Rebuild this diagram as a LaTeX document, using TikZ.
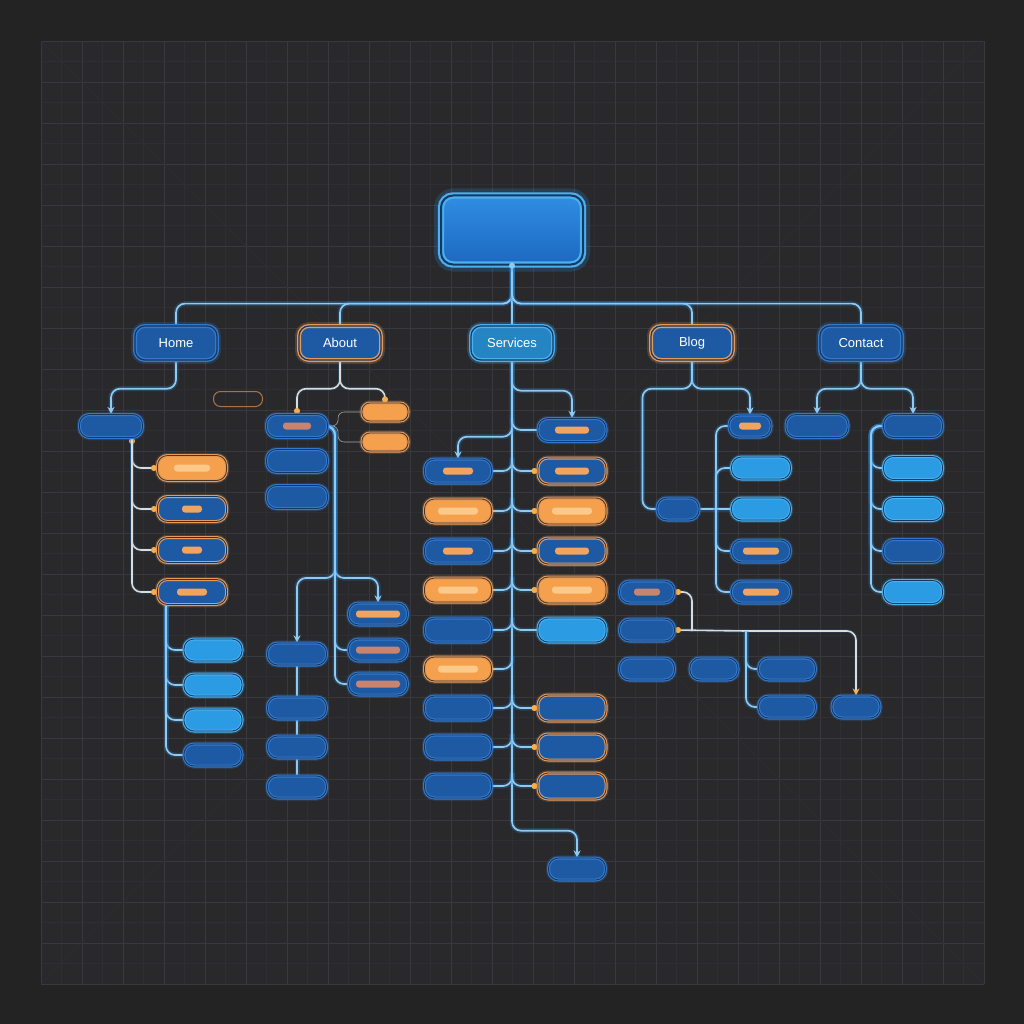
\documentclass[tikz,border=0pt]{standalone}
\usepackage{fontspec}
\setmainfont{Liberation Sans}
\usetikzlibrary{arrows.meta}

\definecolor{bgout}{HTML}{232324}
\definecolor{bgin}{HTML}{29292B}
\definecolor{gridminor}{HTML}{2E2F32}
\definecolor{gridmajor}{HTML}{38393D}
\definecolor{boxblue}{HTML}{1E5AA3}
\definecolor{edgeblue}{HTML}{3479CC}
\definecolor{brightblue}{HTML}{2B9BE4}
\definecolor{brightedge}{HTML}{4AB0F0}
\definecolor{orangefill}{HTML}{F5A04C}
\definecolor{orangeedge}{HTML}{E49A5C}
\definecolor{barorange}{HTML}{F2A35E}
\definecolor{barlight}{HTML}{FCC98A}
\definecolor{bardim}{HTML}{C98470}
\definecolor{linkc}{HTML}{8FCAF0}
\definecolor{palelink}{HTML}{DCDCDC}
\definecolor{glowc}{HTML}{2D8BE0}
\definecolor{dotc}{HTML}{F5B04A}
\definecolor{gapc}{HTML}{13375F}
\definecolor{browngap}{HTML}{4A3424}
\definecolor{rootlight}{HTML}{2F8EE2}
\definecolor{rootdark}{HTML}{1D68C0}

\pgfdeclarelayer{back}
\pgfdeclarelayer{wires}
\pgfsetlayers{back,wires,main}

\tikzset{
  tipdot/.tip={Circle[length=6pt,width=6pt,color=dotc]},
  rootbox/.style={rounded corners=12pt, minimum width=142pt, minimum height=69pt,
    top color=rootlight, bottom color=rootdark, draw=brightedge, line width=2.2pt,
    double=gapc, double distance=2pt,
    preaction={draw=glowc, line width=14pt, opacity=0.22}},
  menu/.style={rounded corners=10pt, minimum width=82pt, minimum height=34pt, inner sep=0pt,
    line width=1.4pt, draw=#1, double=gapc, double distance=1.2pt, text=white,
    font=\fontsize{13}{15}\selectfont,
    preaction={draw=#1, line width=8pt, opacity=0.22}},
  leaf/.style={rounded corners=10pt, minimum height=22pt, inner sep=0pt, line width=1.1pt,
    draw=#1, double=gapc, double distance=0.8pt,
    preaction={draw=#1, line width=5.5pt, opacity=0.2}},
  blueleaf/.style={leaf=edgeblue, fill=boxblue},
  brightleaf/.style={leaf=brightedge, fill=brightblue},
  orangeleaf/.style={leaf=orangeedge, fill=orangefill, double=browngap},
  ringleaf/.style={leaf=orangeedge, fill=boxblue},
  inbar/.style n args={2}{path picture={\fill[#1, rounded corners=3pt]
    (path picture bounding box.center) ++(-#2/2,-3.5) rectangle ++(#2,7);}},
  bar/.style={inbar={barorange}{#1}}, bar/.default=32,
  litbar/.style={inbar={barlight}{#1}}, litbar/.default=38,
  dimbar/.style={inbar={bardim}{#1}}, dimbar/.default=28,
  link/.style={draw=linkc, line width=1.7pt, rounded corners=9pt,
    preaction={draw=glowc, line width=5pt, opacity=0.25, arrows=-}},
  palelink/.style={draw=palelink, line width=1.6pt, rounded corners=9pt,
    preaction={draw=glowc, line width=4pt, opacity=0.15, arrows=-}},
  thinlink/.style={draw=gray!70, line width=0.6pt, rounded corners=6pt},
}

\begin{document}
\begin{tikzpicture}[x={(1pt,0pt)}, y={(0pt,-1pt)}, >={Stealth[length=7pt,width=7pt]}]
% background grid
\begin{pgfonlayer}{back}
\fill[bgout] (0,0) rectangle (1024,1024);
\fill[bgin] (41,41) rectangle (984,984);
\foreach \i in {0,...,46} {
  \draw[gridminor, line width=0.4pt] (41+\i*20.5,41) -- (41+\i*20.5,984);
  \draw[gridminor, line width=0.4pt] (41,41+\i*20.5) -- (984,41+\i*20.5);
}
\foreach \i in {0,...,23} {
  \draw[gridmajor, line width=0.7pt] (41+\i*41,41) -- (41+\i*41,984);
  \draw[gridmajor, line width=0.7pt] (41,41+\i*41) -- (984,41+\i*41);
}
\draw[gridminor, line width=0.6pt] (41,41) -- (984,984) (984,41) -- (41,984);
\end{pgfonlayer}

% root and menu
\node[rootbox] (root) at (512,230) {};
\node[menu=edgeblue, fill=boxblue] (home) at (176,343) {Home};
\node[menu=orangeedge, fill=boxblue] (about) at (340,343) {About};
\node[menu=brightedge, fill=brightblue!85!black] (services) at (512,343) {Services};
\node[menu=orangeedge, fill=boxblue] (blog) at (692,343) {Blog};
\node[menu=edgeblue, fill=boxblue] (contact) at (861,343) {Contact};

% home
\node[blueleaf, minimum width=63pt, minimum height=23pt] (h1) at (111,426) {};
\node[orangeleaf, litbar=36, minimum width=69pt, minimum height=25pt] (h2) at (192,468) {};
\node[ringleaf, bar=20, minimum width=69pt, minimum height=25pt] (h3) at (192,509) {};
\node[ringleaf, bar=20, minimum width=69pt, minimum height=25pt] (h4) at (192,550) {};
\node[ringleaf, bar=30, minimum width=69pt, minimum height=25pt] (h5) at (192,592) {};
\node[brightleaf, minimum width=58pt] (h6) at (213,650) {};
\node[brightleaf, minimum width=58pt] (h7) at (213,685) {};
\node[brightleaf, minimum width=58pt] (h8) at (213,720) {};
\node[blueleaf, minimum width=58pt] (h9) at (213,755) {};
\node[draw=orangeedge!75!black, rounded corners=7pt, minimum width=49pt, minimum height=15pt, line width=1pt] (ghost) at (238,399) {};

% about
\node[blueleaf, dimbar, minimum width=61pt, minimum height=23pt] (a1) at (297,426) {};
\node[orangeleaf, rounded corners=8pt, minimum width=46pt, minimum height=18pt] (a2) at (385,412) {};
\node[orangeleaf, rounded corners=8pt, minimum width=46pt, minimum height=18pt] (a3) at (385,442) {};
\node[blueleaf, minimum width=61pt, minimum height=23pt] (a4) at (297,461) {};
\node[blueleaf, minimum width=61pt, minimum height=23pt] (a5) at (297,497) {};
\node[blueleaf, minimum width=59pt] (a6) at (297,654) {};
\node[blueleaf, bar=44, minimum width=59pt] (a7) at (378,614) {};
\node[blueleaf, dimbar=44, minimum width=59pt] (a8) at (378,650) {};
\node[blueleaf, dimbar=44, minimum width=59pt] (a9) at (378,684) {};
\node[blueleaf, minimum width=59pt] (a10) at (297,708) {};
\node[blueleaf, minimum width=59pt] (a11) at (297,747) {};
\node[blueleaf, minimum width=59pt] (a12) at (297,787) {};

% services
\node[blueleaf, bar=34, minimum width=68pt, minimum height=23pt] (sr1) at (572,430) {};
\node[blueleaf, bar=30, minimum width=67pt, minimum height=24pt] (sl1) at (458,471) {};
\node[orangeleaf, litbar=40, minimum width=67pt, minimum height=24pt] (sl2) at (458,511) {};
\node[blueleaf, bar=30, minimum width=67pt, minimum height=24pt] (sl3) at (458,551) {};
\node[orangeleaf, litbar=40, minimum width=67pt, minimum height=24pt] (sl4) at (458,590) {};
\node[blueleaf, minimum width=67pt, minimum height=24pt] (sl5) at (458,630) {};
\node[orangeleaf, litbar=40, minimum width=67pt, minimum height=24pt] (sl6) at (458,669) {};
\node[blueleaf, minimum width=67pt, minimum height=24pt] (sl7) at (458,708) {};
\node[blueleaf, minimum width=67pt, minimum height=24pt] (sl8) at (458,747) {};
\node[blueleaf, minimum width=67pt, minimum height=24pt] (sl9) at (458,786) {};
\node[ringleaf, bar=34, minimum width=68pt, minimum height=26pt] (sr2) at (572,471) {};
\node[orangeleaf, litbar=40, minimum width=68pt, minimum height=26pt] (sr3) at (572,511) {};
\node[ringleaf, bar=34, minimum width=68pt, minimum height=26pt] (sr4) at (572,551) {};
\node[orangeleaf, litbar=40, minimum width=68pt, minimum height=26pt] (sr5) at (572,590) {};
\node[brightleaf, minimum width=68pt, minimum height=24pt] (sr6) at (572,630) {};
\node[ringleaf, minimum width=68pt, minimum height=26pt] (sr7) at (572,708) {};
\node[ringleaf, minimum width=68pt, minimum height=26pt] (sr8) at (572,747) {};
\node[ringleaf, minimum width=68pt, minimum height=26pt] (sr9) at (572,786) {};
\node[blueleaf, minimum width=57pt] (slast) at (577,869) {};

% blog
\node[blueleaf, bar=22, minimum width=42pt] (b1) at (750,426) {};
\node[blueleaf, minimum width=42pt] (bmid) at (678,509) {};
\node[brightleaf, minimum width=59pt] (b2) at (761,468) {};
\node[brightleaf, minimum width=59pt] (b3) at (761,509) {};
\node[blueleaf, bar=36, minimum width=59pt] (b4) at (761,551) {};
\node[blueleaf, bar=36, minimum width=59pt] (b5) at (761,592) {};

% contact
\node[blueleaf, minimum width=62pt, minimum height=23pt] (c1) at (817,426) {};
\node[blueleaf, minimum width=59pt, minimum height=23pt] (c2) at (913,426) {};
\node[brightleaf, minimum width=59pt, minimum height=23pt] (c3) at (913,468) {};
\node[brightleaf, minimum width=59pt, minimum height=23pt] (c4) at (913,509) {};
\node[blueleaf, minimum width=59pt, minimum height=23pt] (c5) at (913,551) {};
\node[brightleaf, minimum width=59pt, minimum height=23pt] (c6) at (913,592) {};

% lower right group
\node[blueleaf, dimbar=26, minimum width=55pt] (r1) at (647,592) {};
\node[blueleaf, minimum width=55pt] (r2) at (647,630) {};
\node[blueleaf, minimum width=55pt] (r3) at (647,669) {};
\node[blueleaf, minimum width=48pt] (r4) at (714,669) {};
\node[blueleaf, minimum width=57pt] (r5) at (787,669) {};
\node[blueleaf, minimum width=57pt] (r6) at (787,707) {};
\node[blueleaf, minimum width=48pt] (r7) at (856,707) {};

\coordinate (atrunk) at (335,578);
\coordinate (bspine) at (716,509);
\coordinate (rhub) at (746,631);
\coordinate (rknee) at (692,631);

\begin{pgfonlayer}{wires}
% root bus
\draw[link] (root.south) -- ++(0,38) -| (home.north);
\draw[link] (root.south) -- ++(0,38) -| (about.north);
\draw[link] (root.south) -- (services.north);
\draw[link] (root.south) -- ++(0,38) -| (blog.north);
\draw[link] (root.south) -- ++(0,38) -| (contact.north);

% home links
\draw[link,->] (home.south) -- ++(0,28) -| (h1.north);
\draw[palelink,tipdot-tipdot] ([xshift=21pt]h1.south) |- (h2.west);
\draw[palelink,-tipdot] ([xshift=21pt]h1.south) |- (h3.west);
\draw[palelink,-tipdot] ([xshift=21pt]h1.south) |- (h4.west);
\draw[palelink,-tipdot] ([xshift=21pt]h1.south) |- (h5.west);
\draw[link] ([xshift=-26pt]h5.south) |- (h6.west);
\draw[link] ([xshift=-26pt]h5.south) |- (h7.west);
\draw[link] ([xshift=-26pt]h5.south) |- (h8.west);
\draw[link] ([xshift=-26pt]h5.south) |- (h9.west);

% about links
\draw[palelink,-tipdot] (about.south) -- ++(0,28) -| (a1.north);
\draw[palelink,-tipdot] (about.south) -- ++(0,28) -| (a2.north);
\draw[thinlink] (a1.east) -- ++(10,0) |- (a2.west);
\draw[thinlink] (a1.east) -- ++(10,0) |- (a3.west);
\draw[link,->] (a1.east) -| (atrunk) -| (a6.north);
\draw[link,->] (a1.east) -| (atrunk) -| (a7.north);
\draw[link] (a1.east) -| (atrunk) |- (a8.west);
\draw[link] (a1.east) -| (atrunk) |- (a9.west);
\draw[link] (a6.south) -- (a10.north);
\draw[link] (a10.south) -- (a11.north);
\draw[link] (a11.south) -- (a12.north);

% services links
\draw[link,->] (services.south) -- ++(0,470) -| (slast.north);
\draw[link,->] (services.south) -- ++(0,30) -| (sr1.north);
\draw[link,->] (services.south) -- ++(0,76) -| (sl1.north);
\draw[link] (services.south |- sr1.north) |- (sr1.west);
\draw[link] (services.south |- sl1.north) |- (sl1.east);
\draw[link] (services.south |- sl2.north) |- (sl2.east);
\draw[link] (services.south |- sl3.north) |- (sl3.east);
\draw[link] (services.south |- sl4.north) |- (sl4.east);
\draw[link] (services.south |- sl5.north) |- (sl5.east);
\draw[link] (services.south |- sl6.north) |- (sl6.east);
\draw[link] (services.south |- sl7.north) |- (sl7.east);
\draw[link] (services.south |- sl8.north) |- (sl8.east);
\draw[link] (services.south |- sl9.north) |- (sl9.east);
\draw[link,-tipdot] (services.south |- sr2.north) |- (sr2.west);
\draw[link,-tipdot] (services.south |- sr3.north) |- (sr3.west);
\draw[link,-tipdot] (services.south |- sr4.north) |- (sr4.west);
\draw[link,-tipdot] (services.south |- sr5.north) |- (sr5.west);
\draw[link] (services.south |- sr6.north) |- (sr6.west);
\draw[link,-tipdot] (services.south |- sr7.north) |- (sr7.west);
\draw[link,-tipdot] (services.south |- sr8.north) |- (sr8.west);
\draw[link,-tipdot] (services.south |- sr9.north) |- (sr9.west);

% blog links
\draw[link,->] (blog.south) -- ++(0,28) -| (b1.north);
\draw[link] (blog.south) -- ++(0,28) -| ([xshift=-14pt]bmid.west) -- (bmid.west);
\draw[link] (bmid.east) -- (bspine);
\draw[link] (bspine) |- (b1.west);
\draw[link] (bspine) |- (b2.west);
\draw[link] (bspine) -- (b3.west);
\draw[link] (bspine) |- (b4.west);
\draw[link] (bspine) |- (b5.west);

% contact links
\draw[link,->] (contact.south) -- ++(0,28) -| (c1.north);
\draw[link,->] (contact.south) -- ++(0,28) -| (c2.north);
\draw[link] (c2.west) -| ([xshift=-12pt]c3.west) -- (c3.west);
\draw[link] (c2.west) -| ([xshift=-12pt]c4.west) -- (c4.west);
\draw[link] (c2.west) -| ([xshift=-12pt]c5.west) -- (c5.west);
\draw[link] (c2.west) -| ([xshift=-12pt]c6.west) -- (c6.west);

% lower right links
\draw[palelink,-tipdot] (rhub) -- (r2.east);
\draw[palelink,-tipdot] (rknee) |- (r1.east);
\draw[palelink,-{Stealth[length=7pt,width=7pt,color=dotc]}] (rhub) -| (r7.north);
\draw[link] (rhub) |- (r5.west);
\draw[link] (rhub) |- (r6.west);
\end{pgfonlayer}

\fill[linkc] (root.south) circle (3);
\end{tikzpicture}
\end{document}
